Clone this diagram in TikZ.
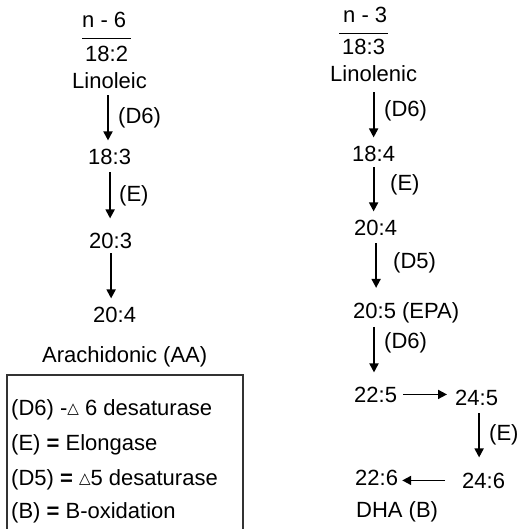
\documentclass[tikz,border=0pt]{standalone}
\usepackage{fontspec}
\setmainfont{Liberation Sans}
\newfontfamily\symfnt{DejaVu Sans}
\usetikzlibrary{arrows.meta}
\newcommand{\smalltri}{{\symfnt\fontsize{15}{15}\selectfont\raisebox{1.5pt}{△}}}
\begin{document}
\begin{tikzpicture}[x=1pt,y=-1pt,
  lbl/.style={anchor=base west,inner sep=0pt,font=\fontsize{22}{26}\selectfont},
  arr/.style={line width=1.8pt,-{Triangle[length=9pt,width=9pt]}},
  fracrule/.style={line width=1.8pt},
  legendbox/.style={draw=black!80,line width=1.1pt}]
\useasboundingbox (0,0) rectangle (520,529);
% left column (n-6)
\node[lbl] (n6) at (82,28) {n - 6};
\node[lbl] (f182) at (85,62) {18:2};
\node[lbl] (lin) at (72,89) {Linoleic};
\node[lbl] (d6a) at (118,124) {(D6)};
\node[lbl] (f183) at (88,165) {18:3};
\node[lbl] (ea) at (119,201) {(E)};
\node[lbl] (f203) at (89,248) {20:3};
\node[lbl] (f204) at (93,322) {20:4};
\node[lbl] (ara) at (42,362) {Arachidonic (AA)};
\draw[fracrule] ([yshift=-10pt]n6.south west) -- ++(49,0);
\draw[arr,shorten <=6pt,shorten >=9pt] ([xshift=-1.5pt]lin.south) -- ([xshift=-1.5pt]lin.south |- f183.north);
\draw[arr,shorten <=7pt,shorten >=14pt] ([xshift=0.5pt]f183.south) -- ([xshift=0.5pt]f183.south |- f203.north);
\draw[arr,shorten <=5pt,shorten >=8pt] ([xshift=0.5pt]f203.south) -- ([xshift=0.5pt]f203.south |- f204.north);
% right column (n-3)
\node[lbl] (n3) at (343,23) {n - 3};
\node[lbl] (r183) at (342,55) {18:3};
\node[lbl] (lnn) at (330,82) {Linolenic};
\node[lbl] (d6b) at (384,117) {(D6)};
\node[lbl] (r184) at (352,162) {18:4};
\node[lbl] (eb) at (390,190) {(E)};
\node[lbl] (r204) at (354,235) {20:4};
\node[lbl] (d5) at (393,268) {(D5)};
\node[lbl] (epa) at (353,318) {20:5 (EPA)};
\node[lbl] (d6c) at (384,348) {(D6)};
\node[lbl] (r225) at (354,402) {22:5};
\node[lbl] (r245) at (455,405) {24:5};
\node[lbl] (ec) at (489,440) {(E)};
\node[lbl] (r226) at (355,485) {22:6};
\node[lbl] (r246) at (462,488) {24:6};
\node[lbl] (dha) at (356,517) {DHA (B)};
\draw[fracrule] ([xshift=-4pt,yshift=-10pt]n3.south west) -- ++(49,0);
\draw[arr,shorten <=10pt,shorten >=9pt] (lnn.south) -- (lnn.south |- r184.north);
\draw[arr,shorten <=5pt,shorten >=8pt] (r184.south) -- (r184.south |- r204.north);
\draw[arr,shorten <=8pt,shorten >=14pt] ([xshift=0.5pt]r204.south) -- ([xshift=0.5pt]r204.south |- epa.north);
\draw[arr,shorten <=4pt,shorten >=14pt] ([xshift=21pt]epa.south west) -- ([xshift=21pt]epa.south west |- r225.north);
\draw[arr,shorten <=6pt,shorten >=8pt] (r225.east) -- (r225.east -| r245.west);
\draw[arr,shorten <=8pt,shorten >=15pt] ([xshift=2.5pt]r245.south) -- ([xshift=2.5pt]r245.south |- r246.north);
\draw[arr,shorten <=17pt,shorten >=4pt] (r246.west) -- (r246.west -| r226.east);
% legend
\draw[legendbox] (7,375) rectangle (243,545);
\node[lbl] (lg1) at (11,415) {(D6) -\smalltri\ 6 desaturase};
\node[lbl] (lg2) at (11,450) {(E) \textbf{=} Elongase};
\node[lbl] (lg3) at (11,485) {(D5) \textbf{=} \smalltri 5 desaturase};
\node[lbl] (lg4) at (11,518) {(B) \textbf{=} B-oxidation};
\end{tikzpicture}
\end{document}
